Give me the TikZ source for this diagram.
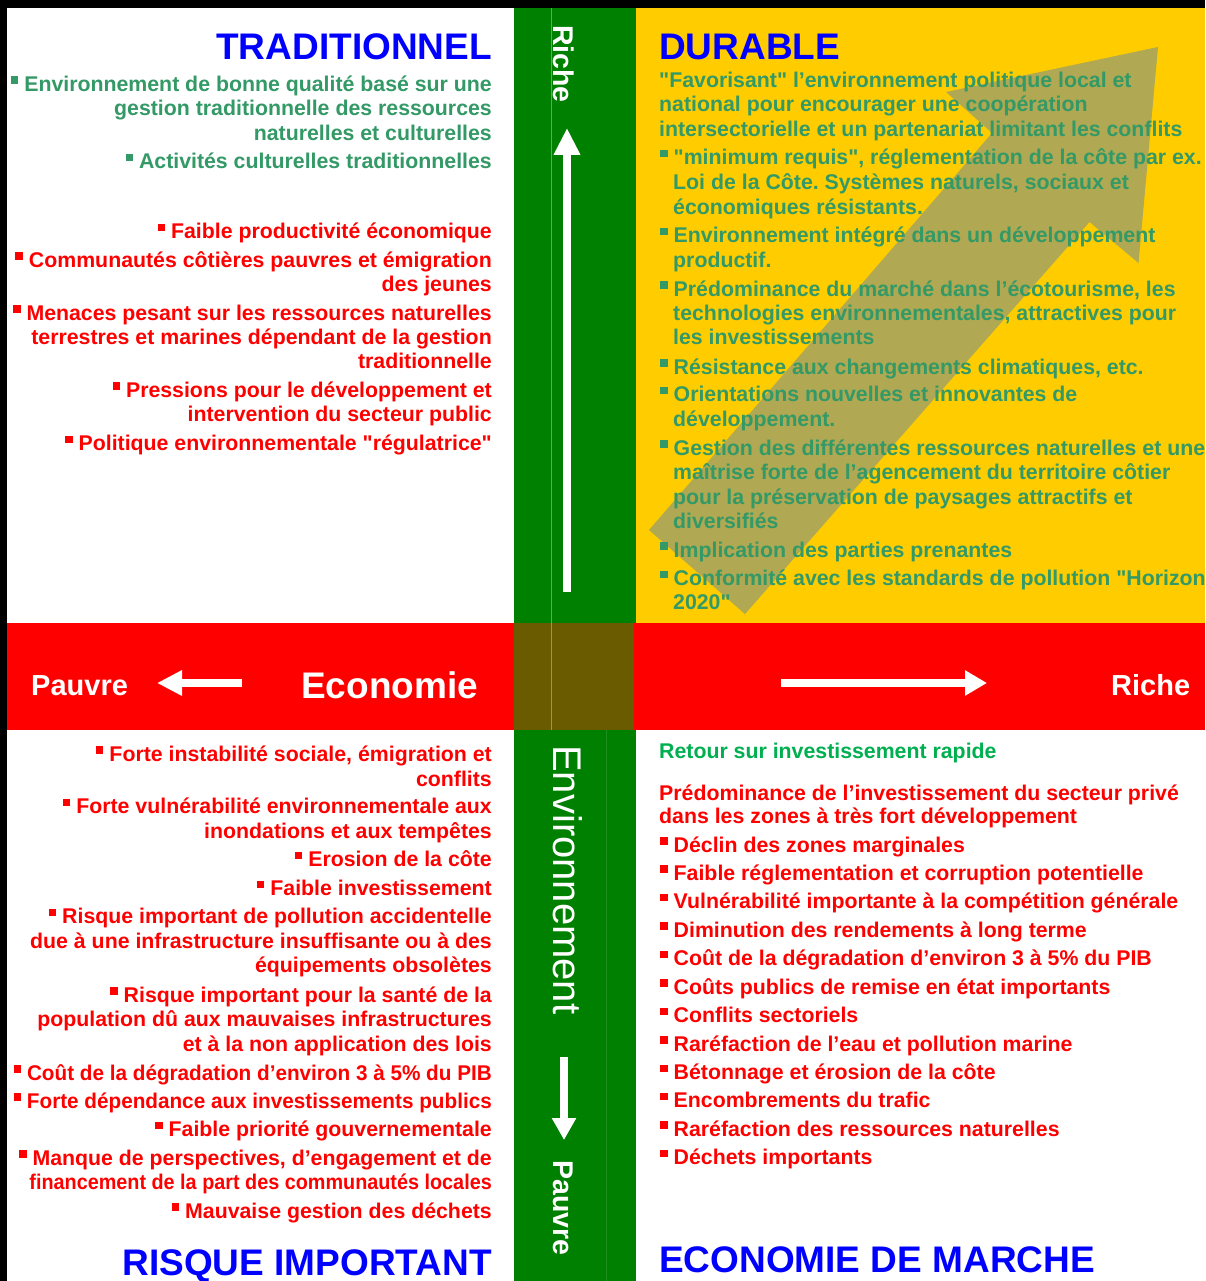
\documentclass[tikz,border=0pt]{standalone}
\usepackage{fontspec}
\setmainfont{Liberation Sans}
\newfontfamily\quadfont{Liberation Sans}
\usepackage{xcolor}
\usepackage{tikz}
\usetikzlibrary{arrows.meta}

\definecolor{bandgreen}{HTML}{008000}
\definecolor{bandred}{HTML}{FF0000}
\definecolor{durableyellow}{HTML}{FFCC00}
\definecolor{crossolive}{HTML}{6B5B00}
\definecolor{arrowolive}{HTML}{B0A852}
\definecolor{textgreen}{HTML}{339966}
\definecolor{fastgreen}{HTML}{00B050}
\definecolor{textred}{HTML}{FF0000}
\definecolor{titleblue}{HTML}{0000FF}

\newcommand{\sqbul}{\rule[7.5pt]{7.5pt}{7.5pt}\hspace{6pt}}
\frenchspacing

\begin{document}
\begin{tikzpicture}[x=1pt,y=-1pt,
    txt/.style={inner sep=0pt, font=\quadfont\fontsize{21.3}{24}\selectfont\bfseries},
    lefttxt/.style={txt, anchor=base east},
    righttxt/.style={txt, anchor=base west},
    quadtitle/.style={inner sep=0pt, text=titleblue, font=\quadfont\fontsize{37}{40}\selectfont\bfseries},
    axistxt/.style={inner sep=0pt, text=white, anchor=base west, font=\quadfont\fontsize{29}{32}\selectfont\bfseries},
    vaxistxt/.style={inner sep=0pt, text=white, anchor=base west, rotate=-90, font=\quadfont\fontsize{28.5}{30}\selectfont\bfseries},
    whitearrow/.style={draw=white, line width=8pt}]
    \useasboundingbox (0,0) rectangle (1205,1281);
    \clip (0,0) rectangle (1205,1281);

    \fill[black] (0,0) rectangle (1205,1281);
    \fill[white] (7,8) rectangle (1205,1281);
    \fill[durableyellow] (636,8) rectangle (1205,623);
    \fill[bandgreen] (514,8) rectangle (636,1281);
    \fill[bandred] (7,623) rectangle (1205,730);
    \fill[crossolive] (514,623) rectangle (634,730);
    \draw[white, opacity=0.35, line width=0.8pt] (551,8) -- (551,730);
    \draw[white, opacity=0.12, line width=0.8pt] (606,730) -- (606,1281);

    \fill[arrowolive] (649,530) -- (992,133) -- (946,92) -- (1158,47) -- (1138.5,263) -- (1089.5,222) -- (745,614) -- cycle;

    \node[quadtitle, anchor=base east] (trad) at (492,60) {TRADITIONNEL};
    \node[lefttxt, text=textgreen] (trad1) at (492,91.5) {\sqbul Environnement de bonne qualité basé sur une};
    \node[lefttxt, text=textgreen] (trad2) at (492,116) {gestion traditionnelle des ressources};
    \node[lefttxt, text=textgreen] (trad3) at (492,140.5) {naturelles et culturelles};
    \node[lefttxt, text=textgreen] (trad4) at (492,169) {\sqbul Activités culturelles traditionnelles};
    \node[lefttxt, text=textred] (trad5) at (492,239) {\sqbul Faible productivité économique};
    \node[lefttxt, text=textred] (trad6) at (492,267) {\sqbul Communautés côtières pauvres et émigration};
    \node[lefttxt, text=textred] (trad7) at (492,291) {des jeunes};
    \node[lefttxt, text=textred] (trad8) at (492,320) {\sqbul Menaces pesant sur les ressources naturelles};
    \node[lefttxt, text=textred] (trad9) at (492,344) {terrestres et marines dépendant de la gestion};
    \node[lefttxt, text=textred] (trad10) at (492,368.5) {traditionnelle};
    \node[lefttxt, text=textred] (trad11) at (492,397) {\sqbul Pressions pour le développement et};
    \node[lefttxt, text=textred] (trad12) at (492,421.5) {intervention du secteur public};
    \node[lefttxt, text=textred] (trad13) at (492,450.5) {\sqbul Politique environnementale "régulatrice"};

    \node[quadtitle, anchor=base west] (dur) at (659,60) {DURABLE};
    \node[righttxt, text=textgreen] (dur1) at (659,88) {"Favorisant" l’environnement politique local et};
    \node[righttxt, text=textgreen] (dur2) at (659,112) {national pour encourager une coopération};
    \node[righttxt, text=textgreen] (dur3) at (659,136.5) {intersectorielle et un partenariat limitant les conflits};
    \node[righttxt, text=textgreen] (dur4) at (660,165) {\sqbul "minimum requis", réglementation de la côte par ex.};
    \node[righttxt, text=textgreen] (dur5) at (673,189.5) {Loi de la Côte. Systèmes naturels, sociaux et};
    \node[righttxt, text=textgreen] (dur6) at (673,214.5) {économiques résistants.};
    \node[righttxt, text=textgreen] (dur7) at (660,243) {\sqbul Environnement intégré dans un développement};
    \node[righttxt, text=textgreen] (dur8) at (673,267) {productif.};
    \node[righttxt, text=textgreen] (dur9) at (660,296) {\sqbul Prédominance du marché dans l’écotourisme, les};
    \node[righttxt, text=textgreen] (dur10) at (673,320.5) {technologies environnementales, attractives pour};
    \node[righttxt, text=textgreen] (dur11) at (673,344.5) {les investissements};
    \node[righttxt, text=textgreen] (dur12) at (660,374) {\sqbul Résistance aux changements climatiques, etc.};
    \node[righttxt, text=textgreen] (dur13) at (660,401.5) {\sqbul Orientations nouvelles et innovantes de};
    \node[righttxt, text=textgreen] (dur14) at (673,426) {développement.};
    \node[righttxt, text=textgreen] (dur15) at (660,455) {\sqbul Gestion des différentes ressources naturelles et une};
    \node[righttxt, text=textgreen] (dur16) at (673,479.5) {maîtrise forte de l’agencement du territoire côtier};
    \node[righttxt, text=textgreen] (dur17) at (673,504) {pour la préservation de paysages attractifs et};
    \node[righttxt, text=textgreen] (dur18) at (673,528.5) {diversifiés};
    \node[righttxt, text=textgreen] (dur19) at (660,557) {\sqbul Implication des parties prenantes};
    \node[righttxt, text=textgreen] (dur20) at (660,585.5) {\sqbul Conformité avec les standards de pollution "Horizon};
    \node[righttxt, text=textgreen] (dur21) at (673,609.5) {2020"};

    \node[lefttxt, text=textred] (risk1) at (492,761) {\sqbul Forte instabilité sociale, émigration et};
    \node[lefttxt, text=textred] (risk2) at (492,786) {conflits};
    \node[lefttxt, text=textred] (risk3) at (492,813.5) {\sqbul Forte vulnérabilité environnementale aux};
    \node[lefttxt, text=textred] (risk4) at (492,838) {inondations et aux tempêtes};
    \node[lefttxt, text=textred] (risk5) at (492,866.5) {\sqbul Erosion de la côte};
    \node[lefttxt, text=textred] (risk6) at (492,895.5) {\sqbul Faible investissement};
    \node[lefttxt, text=textred] (risk7) at (492,923.5) {\sqbul Risque important de pollution accidentelle};
    \node[lefttxt, text=textred] (risk8) at (492,948) {due à une infrastructure insuffisante ou à des};
    \node[lefttxt, text=textred] (risk9) at (492,972.5) {équipements obsolètes};
    \node[lefttxt, text=textred] (risk10) at (492,1002) {\sqbul Risque important pour la santé de la};
    \node[lefttxt, text=textred] (risk11) at (492,1026.5) {population dû aux mauvaises infrastructures};
    \node[lefttxt, text=textred] (risk12) at (492,1051) {et à la non application des lois};
    \node[lefttxt, text=textred] (risk13) at (492,1080) {\scalebox{0.972}[1]{\sqbul Coût de la dégradation d’environ 3 à 5\% du PIB}};
    \node[lefttxt, text=textred] (risk14) at (492,1108) {\scalebox{0.972}[1]{\sqbul Forte dépendance aux investissements publics}};
    \node[lefttxt, text=textred] (risk15) at (492,1136.5) {\sqbul Faible priorité gouvernementale};
    \node[lefttxt, text=textred] (risk16) at (492,1165) {\sqbul Manque de perspectives, d’engagement et de};
    \node[lefttxt, text=textred] (risk17) at (492,1189) {\scalebox{0.93}[1]{financement de la part des communautés locales}};
    \node[lefttxt, text=textred] (risk18) at (492,1218) {\sqbul Mauvaise gestion des déchets};
    \node[quadtitle, anchor=base east] (risk) at (492,1275) {RISQUE IMPORTANT};

    \node[righttxt, text=fastgreen] (march1) at (659,758.5) {Retour sur investissement rapide};
    \node[righttxt, text=textred] (march2) at (659,800) {Prédominance de l’investissement du secteur privé};
    \node[righttxt, text=textred] (march3) at (659,823) {dans les zones à très fort développement};
    \node[righttxt, text=textred] (march4) at (660,852) {\sqbul Déclin des zones marginales};
    \node[righttxt, text=textred] (march5) at (660,880) {\sqbul Faible réglementation et corruption potentielle};
    \node[righttxt, text=textred] (march6) at (660,908.5) {\sqbul Vulnérabilité importante à la compétition générale};
    \node[righttxt, text=textred] (march7) at (660,937) {\sqbul Diminution des rendements à long terme};
    \node[righttxt, text=textred] (march8) at (660,965.5) {\sqbul Coût de la dégradation d’environ 3 à 5\% du PIB};
    \node[righttxt, text=textred] (march9) at (660,994) {\sqbul Coûts publics de remise en état importants};
    \node[righttxt, text=textred] (march10) at (660,1022.5) {\sqbul Conflits sectoriels};
    \node[righttxt, text=textred] (march11) at (660,1051) {\sqbul Raréfaction de l’eau et pollution marine};
    \node[righttxt, text=textred] (march12) at (660,1079.5) {\sqbul Bétonnage et érosion de la côte};
    \node[righttxt, text=textred] (march13) at (660,1107.5) {\sqbul Encombrements du trafic};
    \node[righttxt, text=textred] (march14) at (660,1136) {\sqbul Raréfaction des ressources naturelles};
    \node[righttxt, text=textred] (march15) at (660,1164.5) {\sqbul Déchets importants};
    \node[quadtitle, anchor=base west] (march) at (659,1272) {ECONOMIE DE MARCHE};

    \node[axistxt] (ecopoor) at (31,695) {Pauvre};
    \node[axistxt, font=\quadfont\fontsize{37}{40}\selectfont\bfseries] (eco) at (301,698) {Economie};
    \node[axistxt] (ecorich) at (1111,695) {Riche};
    \node[vaxistxt] (envrich) at (553,25) {Riche};
    \node[vaxistxt, font=\quadfont\fontsize{40}{44}\selectfont] (env) at (553,745) {Environnement};
    \node[vaxistxt] (envpoor) at (553,1160) {Pauvre};

    \coordinate (upfoot) at (567,592);
    \coordinate (uptip) at (567,128);
    \coordinate (downfoot) at (564,1057);
    \coordinate (downtip) at (564,1140);
    \coordinate (leftfoot) at (242,683);
    \coordinate (lefttip) at (157,683);
    \coordinate (rightfoot) at (781,683);
    \coordinate (righttip) at (987,683);
    \draw[whitearrow, -{Triangle[width=25pt,length=27pt]}] (upfoot) -- (uptip);
    \draw[whitearrow, -{Triangle[width=23pt,length=22pt]}] (downfoot) -- (downtip);
    \draw[whitearrow, -{Triangle[width=24pt,length=25pt]}] (leftfoot) -- (lefttip);
    \draw[whitearrow, -{Triangle[width=24pt,length=22pt]}] (rightfoot) -- (righttip);

    \end{tikzpicture}
\end{document}
